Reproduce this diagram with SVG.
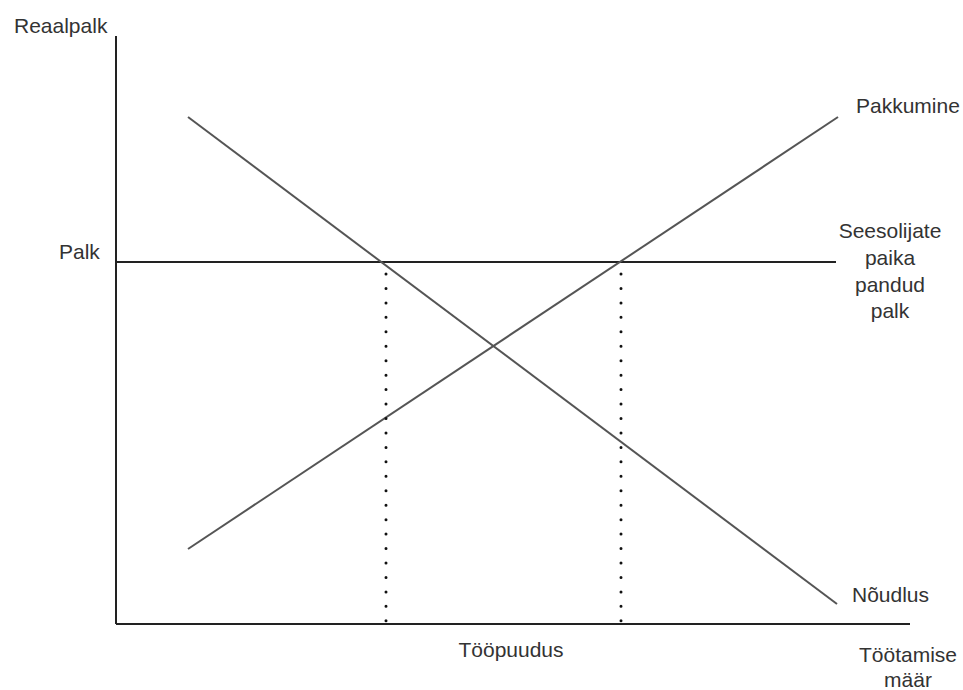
<svg xmlns="http://www.w3.org/2000/svg" width="963" height="690" viewBox="0 0 963 690">
<style>
.t{font-family:"Liberation Sans",Arial,sans-serif;font-size:21px;fill:#333}
.ax{stroke:#222;stroke-width:2;fill:none}
.cv{stroke:#555;stroke-width:2;fill:none}
.dot{stroke:#111;stroke-width:3;stroke-linecap:round;stroke-dasharray:0 14.45;fill:none}
</style>
<rect width="963" height="690" fill="#fff"/>
<g id="connectors">
<line class="ax" x1="116" y1="36" x2="116" y2="624"/>
<line class="ax" x1="116" y1="624" x2="910" y2="624"/>
<line class="ax" x1="116" y1="262" x2="836" y2="262"/>
<line class="cv" x1="188" y1="117" x2="837" y2="604"/>
<line class="cv" x1="188" y1="549" x2="838" y2="117"/>
<line class="dot" x1="386" y1="274" x2="386" y2="622"/>
<line class="dot" x1="621" y1="274" x2="621" y2="622"/>
</g>
<g id="reaalpalk"><text class="t" x="14" y="33">Reaalpalk</text></g>
<g id="palk"><text class="t" x="59" y="259">Palk</text></g>
<g id="pakkumine"><text class="t" x="856" y="113">Pakkumine</text></g>
<g id="seesolijate" text-anchor="middle">
<text class="t" x="890" y="238">Seesolijate</text>
<text class="t" x="890" y="265">paika</text>
<text class="t" x="890" y="292">pandud</text>
<text class="t" x="890" y="318">palk</text>
</g>
<g id="noudlus"><text class="t" x="852" y="602">Nõudlus</text></g>
<g id="tooppuudus"><text class="t" x="511" y="657" text-anchor="middle">Tööpuudus</text></g>
<g id="tootamise" text-anchor="middle">
<text class="t" x="908" y="662">Töötamise</text>
<text class="t" x="908" y="687">määr</text>
</g>
</svg>
